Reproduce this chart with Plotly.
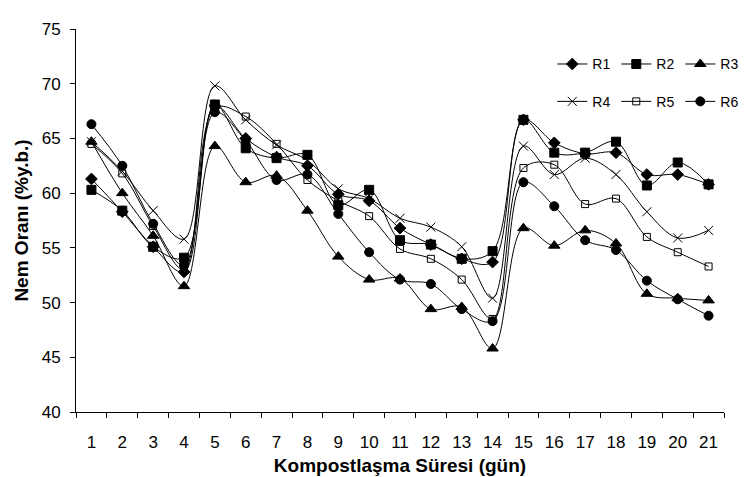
import plotly.graph_objects as go

days = [str(d) for d in range(1, 22)]
R1 = [61.3, 58.3, 55.1, 52.8, 68.0, 65.0, 63.3, 62.5, 59.9, 59.3, 56.8, 55.3, 54.0, 53.7, 66.7, 64.6, 63.6, 63.7, 61.7, 61.7, 60.8]
R2 = [60.3, 58.4, 55.1, 54.1, 68.1, 64.1, 63.2, 63.5, 58.9, 60.3, 55.7, 55.3, 54.0, 54.7, 66.7, 63.7, 63.7, 64.7, 60.7, 62.8, 60.8]
R3 = [64.7, 60.0, 56.1, 51.5, 64.3, 61.0, 61.6, 58.4, 54.2, 52.1, 52.2, 49.4, 49.6, 45.8, 56.8, 55.2, 56.6, 55.4, 50.8, 50.4, 50.2]
R4 = [64.7, 62.0, 58.4, 55.8, 69.8, 66.7, 64.4, 63.0, 60.4, 59.5, 57.7, 56.9, 55.1, 50.4, 64.3, 61.7, 63.2, 61.7, 58.3, 55.9, 56.6]
R5 = [64.5, 61.8, 57.0, 53.0, 67.8, 67.0, 64.5, 61.2, 59.3, 57.9, 54.9, 54.0, 52.1, 48.5, 62.3, 62.6, 59.0, 59.5, 56.0, 54.6, 53.3]
R6 = [66.3, 62.5, 57.2, 53.4, 67.4, 64.8, 61.2, 61.7, 58.1, 54.6, 52.1, 51.7, 49.4, 48.3, 61.0, 58.8, 55.7, 54.8, 52.0, 50.3, 48.8]

series = [
    ("R1", R1, "diamond", 9, "legend"),
    ("R2", R2, "square", 9, "legend"),
    ("R3", R3, "triangle-up", 10, "legend"),
    ("R4", R4, "x-thin-open", 9, "legend2"),
    ("R5", R5, "square-open", 7, "legend2"),
    ("R6", R6, "circle", 9, "legend2"),
]

fig = go.Figure()
for name, vals, sym, size, lg in series:
    fig.add_trace(go.Scatter(
        x=days, y=vals, name=name, mode="lines+markers",
        line=dict(color="black", width=1, shape="spline", smoothing=1),
        marker=dict(symbol=sym, size=size, color="black",
                    line=dict(color="black", width=1)),
        legend=lg,
    ))

font = dict(family="Liberation Sans, Arial, sans-serif", color="black", size=16)

leg_common = dict(orientation="h", xanchor="left", yanchor="middle",
                  entrywidth=19, entrywidthmode="pixels", bgcolor="rgba(0,0,0,0)",
                  font=dict(size=14), itemwidth=30, borderwidth=0)

fig.update_layout(
    width=748, height=477,
    margin=dict(l=67, r=17, t=14, b=66),
    plot_bgcolor="white", paper_bgcolor="white",
    font=font,
    xaxis=dict(
        type="category", range=[-0.5, 20.5], tickson="boundaries",
        ticks="outside", ticklen=5, tickcolor="black", tickangle=0,
        showline=True, linecolor="black", linewidth=1, showgrid=False,
        zeroline=False, ticklabelstandoff=15,
        title=dict(text="<b>Kompostlaşma Süresi (gün)</b>", font=dict(size=19), standoff=7),
        tickfont=dict(size=17),
    ),
    yaxis=dict(
        range=[40, 75], dtick=5, ticks="outside", ticklen=5, tickcolor="black",
        showline=True, linecolor="black", linewidth=1, showgrid=False,
        zeroline=False, ticklabelstandoff=6,
        title=dict(text="<b>Nem Oranı (%y.b.)</b>", font=dict(size=19), standoff=8),
        tickfont=dict(size=17),
    ),
    legend=dict(x=0.735, y=0.9076, **leg_common),
    legend2=dict(x=0.735, y=0.810, **leg_common),
)

fig.write_html("out.html")
